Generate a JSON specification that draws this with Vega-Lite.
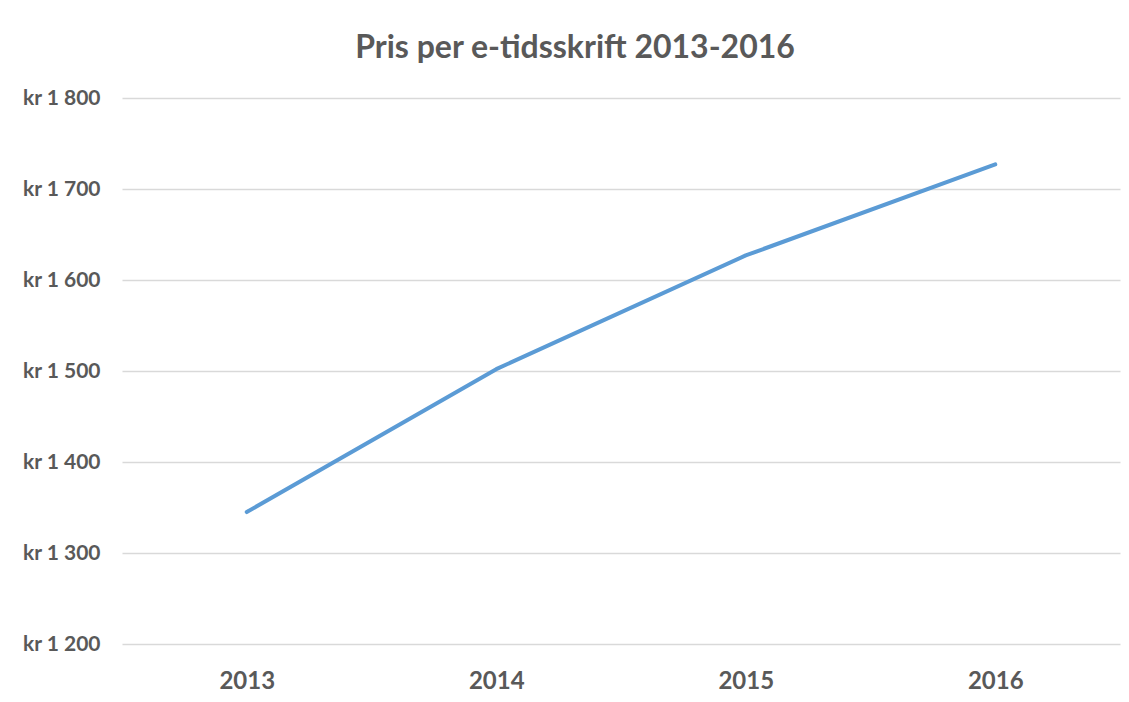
{
  "$schema": "https://vega.github.io/schema/vega-lite/v6.json",
  "autosize": {"type": "none"},
  "width": 998,
  "height": 546,
  "padding": {"left": 122, "top": 98, "right": 9, "bottom": 58},
  "background": "white",
  "title": {
    "text": "Pris per e-tidsskrift 2013-2016",
    "anchor": "middle",
    "frame": "group",
    "dx": -46,
    "dy": 29,
    "baseline": "alphabetic",
    "offset": 26,
    "font": "Lato",
    "fontSize": 32,
    "fontWeight": "bold",
    "color": "#595959"
  },
  "data": {
    "values": [
      {"year": "2013", "pris": 1345},
      {"year": "2014", "pris": 1502},
      {"year": "2015", "pris": 1627},
      {"year": "2016", "pris": 1727}
    ]
  },
  "mark": {"type": "line", "color": "#5B9BD5", "strokeWidth": 4, "strokeCap": "round", "strokeJoin": "round"},
  "encoding": {
    "x": {
      "field": "year",
      "type": "ordinal",
      "scale": {"type": "point", "padding": 0.5},
      "axis": {
        "title": null,
        "domain": false,
        "ticks": false,
        "grid": false,
        "labelAngle": 0,
        "labelFont": "Lato",
        "labelFontSize": 24,
        "labelFontWeight": "bold",
        "labelColor": "#595959",
        "labelPadding": 25
      }
    },
    "y": {
      "field": "pris",
      "type": "quantitative",
      "scale": {"domain": [1200, 1800], "nice": false, "zero": false},
      "axis": {
        "title": null,
        "domain": false,
        "ticks": false,
        "values": [1200, 1300, 1400, 1500, 1600, 1700, 1800],
        "labelExpr": "'kr ' + replace(format(datum.value, ','), ',', ' ')",
        "labelFont": "Lato",
        "labelFontSize": 21,
        "labelFontWeight": "bold",
        "labelColor": "#595959",
        "labelPadding": 22,
        "gridColor": "#D9D9D9",
        "gridWidth": 1.5
      }
    }
  },
  "config": {"view": {"stroke": null}}
}
